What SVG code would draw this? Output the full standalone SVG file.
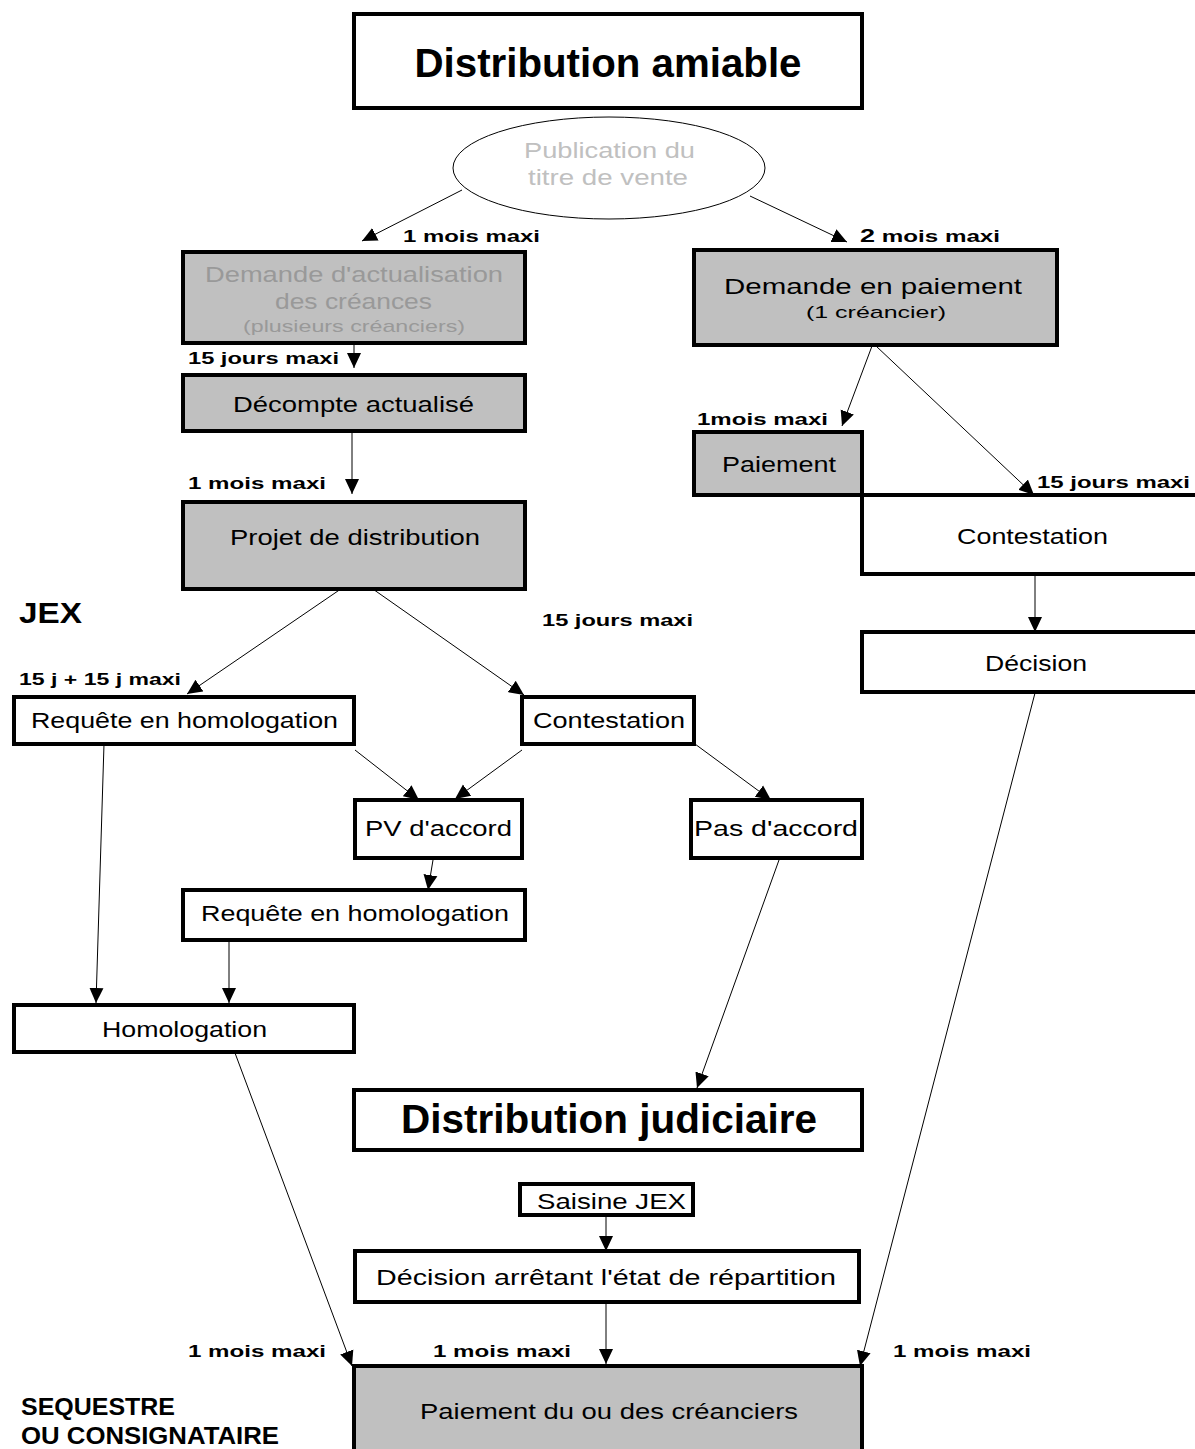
<svg xmlns="http://www.w3.org/2000/svg" width="1195" height="1449" viewBox="0 0 1195 1449">
<defs>
<marker id="ah" markerUnits="userSpaceOnUse" markerWidth="16" markerHeight="16" viewBox="0 0 16 16" refX="15" refY="8" orient="auto">
<path d="M0,1 L15,8 L0,15 Z" fill="#000"/>
</marker>
</defs>
<style>
.bx{fill:#fff;stroke:#000;stroke-width:4}
.gb{fill:#c0c0c0;stroke:#000;stroke-width:4}
.t{font-family:"Liberation Sans",Arial,sans-serif;font-size:22px;fill:#000;text-anchor:start}
.s{font-family:"Liberation Sans",Arial,sans-serif;font-size:17px;fill:#000;text-anchor:start}
.big{font-family:"Liberation Sans",Arial,sans-serif;font-size:40px;font-weight:bold;fill:#000;text-anchor:middle}
.lb{font-family:"Liberation Sans",Arial,sans-serif;font-size:17px;font-weight:bold;fill:#000}
.hd{font-family:"Liberation Sans",Arial,sans-serif;font-weight:bold;fill:#000}
.g{fill:#c0c0c0}
.dg{fill:#999}
.c line{stroke:#000;stroke-width:1;marker-end:url(#ah)}
</style>
<rect width="1195" height="1449" fill="#fff"/>

<g id="connectors" class="c">
<line x1="462" y1="190" x2="362" y2="241"/>
<line x1="750" y1="196" x2="847" y2="242"/>
<line x1="354" y1="343" x2="354" y2="368"/>
<line x1="352" y1="431" x2="352" y2="494"/>
<line x1="872" y1="346" x2="842" y2="426"/>
<line x1="876" y1="346" x2="1034" y2="495"/>
<line x1="1035" y1="576" x2="1035" y2="632"/>
<line x1="354" y1="580" x2="187" y2="694"/>
<line x1="360" y1="580" x2="524" y2="695"/>
<line x1="355" y1="750" x2="419" y2="800"/>
<line x1="522" y1="750" x2="455" y2="799"/>
<line x1="695" y1="744" x2="771" y2="800"/>
<line x1="433" y1="860" x2="428" y2="890"/>
<line x1="104" y1="744" x2="96" y2="1003"/>
<line x1="229" y1="940" x2="229" y2="1003"/>
<line x1="779" y1="860" x2="697" y2="1088"/>
<line x1="606" y1="1216" x2="606" y2="1251"/>
<line x1="606" y1="1303" x2="606" y2="1364"/>
<line x1="235" y1="1053" x2="352" y2="1366"/>
<line x1="1035" y1="693" x2="860" y2="1366"/>
</g>

<g id="n-amiable"><rect class="bx" x="354" y="14" width="508" height="94"/><text class="big" x="608" y="77" textLength="387" lengthAdjust="spacingAndGlyphs">Distribution amiable</text></g>

<g id="n-publication"><ellipse cx="609" cy="168" rx="156" ry="51" fill="#fff" stroke="#000" stroke-width="1"/>
<text class="t g" x="524" y="158" textLength="171" lengthAdjust="spacingAndGlyphs">Publication du</text>
<text class="t g" x="528" y="185" textLength="160" lengthAdjust="spacingAndGlyphs">titre de vente</text></g>

<text class="lb" x="403" y="242" textLength="137" lengthAdjust="spacingAndGlyphs">1 mois maxi</text>
<text class="lb" x="860" y="242" textLength="140" lengthAdjust="spacingAndGlyphs"><tspan font-size="19">2</tspan> mois maxi</text>

<g id="n-demande-actu"><rect class="gb" x="183" y="252" width="342" height="91"/>
<text class="t dg" x="205" y="282" textLength="298" lengthAdjust="spacingAndGlyphs">Demande d'actualisation</text>
<text class="t dg" x="275" y="309" textLength="157" lengthAdjust="spacingAndGlyphs">des créances</text>
<text class="s dg" x="243" y="332" textLength="222" lengthAdjust="spacingAndGlyphs">(plusieurs créanciers)</text></g>

<text class="lb" x="188" y="364" textLength="151" lengthAdjust="spacingAndGlyphs">15 jours maxi</text>

<g id="n-decompte"><rect class="gb" x="183" y="375" width="342" height="56"/><text class="t" x="233" y="412" textLength="241" lengthAdjust="spacingAndGlyphs">Décompte actualisé</text></g>

<text class="lb" x="188" y="489" textLength="138" lengthAdjust="spacingAndGlyphs">1 mois maxi</text>

<g id="n-projet"><rect class="gb" x="183" y="502" width="342" height="87"/><text class="t" x="230" y="545" textLength="250" lengthAdjust="spacingAndGlyphs">Projet de distribution</text></g>

<g id="n-demande-paiement"><rect class="gb" x="694" y="250" width="363" height="95"/>
<text class="t" x="724" y="294" textLength="298" lengthAdjust="spacingAndGlyphs">Demande en paiement</text>
<text class="s" x="806" y="318" textLength="140" lengthAdjust="spacingAndGlyphs">(1 créancier)</text></g>

<text class="lb" x="697" y="425" textLength="131" lengthAdjust="spacingAndGlyphs">1mois maxi</text>

<g id="n-paiement"><rect class="gb" x="694" y="432" width="168" height="63"/><text class="t" x="722" y="472" textLength="114" lengthAdjust="spacingAndGlyphs">Paiement</text></g>

<text class="lb" x="1037" y="488" textLength="153" lengthAdjust="spacingAndGlyphs">15 jours maxi</text>

<g id="n-contestation-r"><rect class="bx" x="862" y="495" width="345" height="79"/><text class="t" x="957" y="544" textLength="151" lengthAdjust="spacingAndGlyphs">Contestation</text></g>

<g id="n-decision-r"><rect class="bx" x="862" y="632" width="345" height="60"/><text class="t" x="985" y="671" textLength="102" lengthAdjust="spacingAndGlyphs">Décision</text></g>

<text class="hd" x="19" y="623" font-size="29" textLength="63" lengthAdjust="spacingAndGlyphs">JEX</text>
<text class="lb" x="542" y="626" textLength="151" lengthAdjust="spacingAndGlyphs">15 jours maxi</text>
<text class="lb" x="19" y="685" textLength="162" lengthAdjust="spacingAndGlyphs">15 j + 15 j maxi</text>

<g id="n-requete1"><rect class="bx" x="14" y="697" width="340" height="47"/><text class="t" x="31" y="728" textLength="307" lengthAdjust="spacingAndGlyphs">Requête en homologation</text></g>

<g id="n-contestation-m"><rect class="bx" x="522" y="697" width="172" height="47"/><text class="t" x="533" y="728" textLength="152" lengthAdjust="spacingAndGlyphs">Contestation</text></g>

<g id="n-pv"><rect class="bx" x="355" y="800" width="167" height="58"/><text class="t" x="365" y="836" textLength="147" lengthAdjust="spacingAndGlyphs">PV d'accord</text></g>

<g id="n-pas"><rect class="bx" x="691" y="800" width="171" height="58"/><text class="t" x="694" y="836" textLength="164" lengthAdjust="spacingAndGlyphs">Pas d'accord</text></g>

<g id="n-requete2"><rect class="bx" x="183" y="890" width="342" height="50"/><text class="t" x="201" y="921" textLength="308" lengthAdjust="spacingAndGlyphs">Requête en homologation</text></g>

<g id="n-homologation"><rect class="bx" x="14" y="1005" width="340" height="47"/><text class="t" x="102" y="1037" textLength="165" lengthAdjust="spacingAndGlyphs">Homologation</text></g>

<g id="n-judiciaire"><rect class="bx" x="354" y="1090" width="508" height="60"/><text class="big" x="609" y="1133" textLength="416" lengthAdjust="spacingAndGlyphs">Distribution judiciaire</text></g>

<g id="n-saisine"><rect class="bx" x="520" y="1184" width="173" height="31"/><text class="t" x="537" y="1209" textLength="149" lengthAdjust="spacingAndGlyphs">Saisine JEX</text></g>

<g id="n-decision-etat"><rect class="bx" x="355" y="1251" width="504" height="51"/><text class="t" x="376" y="1285" textLength="460" lengthAdjust="spacingAndGlyphs">Décision arrêtant l'état de répartition</text></g>

<text class="lb" x="188" y="1357" textLength="138" lengthAdjust="spacingAndGlyphs">1 mois maxi</text>
<text class="lb" x="433" y="1357" textLength="138" lengthAdjust="spacingAndGlyphs">1 mois maxi</text>
<text class="lb" x="893" y="1357" textLength="138" lengthAdjust="spacingAndGlyphs">1 mois maxi</text>

<g id="n-paiement-final"><rect class="gb" x="354" y="1366" width="508" height="100"/><text class="t" x="420" y="1419" textLength="378" lengthAdjust="spacingAndGlyphs">Paiement du ou des créanciers</text></g>

<text class="hd" x="21" y="1415" font-size="24" textLength="154" lengthAdjust="spacingAndGlyphs">SEQUESTRE</text>
<text class="hd" x="21" y="1444" font-size="24" textLength="258" lengthAdjust="spacingAndGlyphs">OU CONSIGNATAIRE</text>
</svg>
